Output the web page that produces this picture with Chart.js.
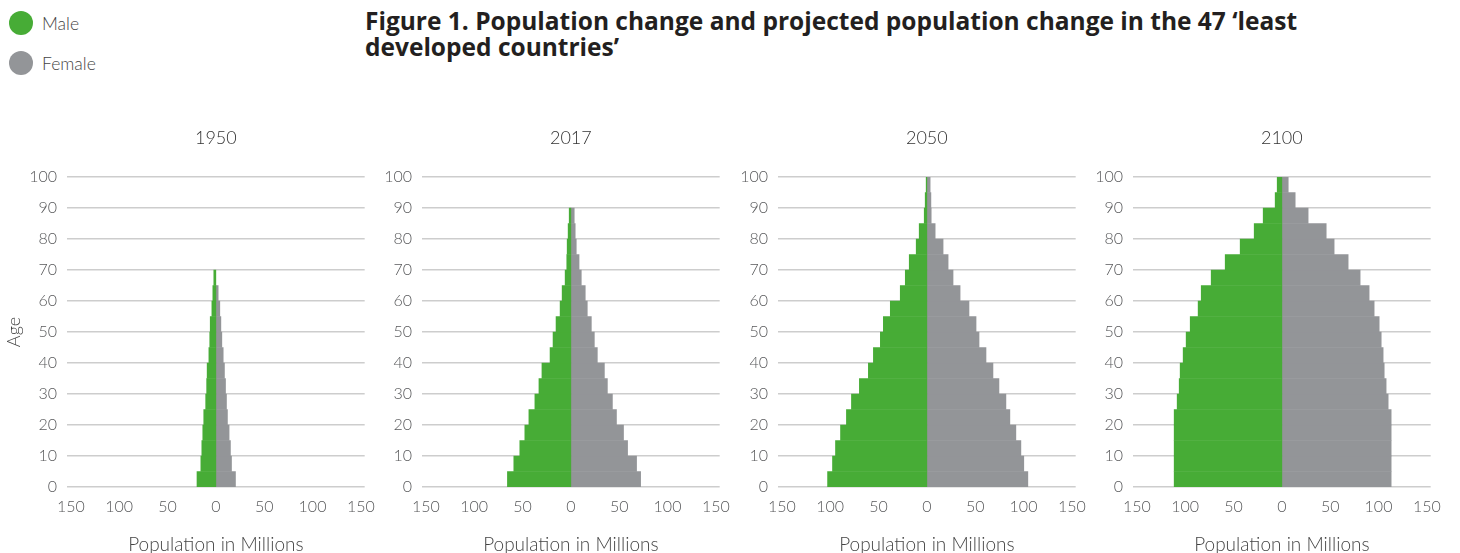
<!DOCTYPE html>
<html>
<head>
<meta charset="utf-8">
<script src="https://cdn.jsdelivr.net/npm/chart.js@4.4.1/dist/chart.umd.min.js"></script>
<style>
  body {
    margin: 0;
    width: 1460px;
    height: 553px;
    overflow: hidden;
    background: #fff;
    position: relative;
    font-family: Lato, "Open Sans", sans-serif;
  }
  .legend-item {
    position: absolute;
    left: 9px;
    height: 24px;
    display: flex;
    align-items: center;
    font-size: 17.5px;
    font-weight: 300;
    color: #444;
  }
  .dot {
    width: 24px;
    height: 24px;
    border-radius: 50%;
    margin-right: 9px;
  }
  h1 {
    position: absolute;
    left: 365px;
    top: 8px;
    margin: 0;
    font-family: "Open Sans", Lato, sans-serif;
    font-size: 24.5px;
    line-height: 26px;
    font-weight: 700;
    color: #231f20;
    white-space: nowrap;
  }
  .panel {
    position: absolute;
    top: 127px;
    height: 433px;
  }
</style>
</head>
<body>
<div class="legend-item" style="top:11px"><span class="dot" style="background:#47ac36"></span>Male</div>
<div class="legend-item" style="top:51px"><span class="dot" style="background:#939598"></span>Female</div>
<h1>Figure 1. Population change and projected population change in the 47 ‘least<br>developed countries’</h1>

<div class="panel" id="p0"><canvas id="c0"></canvas></div>
<div class="panel" id="p1"><canvas id="c1"></canvas></div>
<div class="panel" id="p2"><canvas id="c2"></canvas></div>
<div class="panel" id="p3"><canvas id="c3"></canvas></div>

<script>
// age bands 0-4 ... 95-99, placed at the band midpoint
const AGE_MIDS = [2.5, 7.5, 12.5, 17.5, 22.5, 27.5, 32.5, 37.5, 42.5, 47.5,
                  52.5, 57.5, 62.5, 67.5, 72.5, 77.5, 82.5, 87.5, 92.5, 97.5];
const YEARS = ['1950', '2017', '2050', '2100'];

// population in millions per band
const male1950 = [19.5, 15.5, 14.5, 13.5, 12.5, 10.5, 9.5, 9, 7.2, 6.3,
                  5.8, 4.1, 3.1, 2.1, null, null, null, null, null, null];
const female1950 = [20.3, 16.2, 15.1, 13.7, 12, 11, 10, 8.9, 7.6, 6.2,
                    5.2, 4.1, 2.4, null, null, null, null, null, null, null];

const male2017 = [65.6, 59, 52.8, 47.6, 43.4, 37.2, 33, 29.9, 21.5, 18.4,
                  15.3, 11.1, 9, 5.9, 4.2, 3.8, 2.8, 1.7, null, null];
const female2017 = [72.2, 68, 58.7, 54.5, 47.2, 43, 37.8, 34.7, 27.4, 24.3,
                    21.2, 17, 14.9, 10.8, 8.5, 5.6, 4.5, 3.5, null, null];

const male2050 = [102.7, 97.6, 94.5, 89.3, 83.2, 78, 69.8, 60.5, 55.3, 48.1,
                  45, 37.8, 27.5, 22.3, 18.2, 11, 7.9, 2.7, 1.7, 0.7];
const female2050 = [104.5, 100.3, 97.3, 92.1, 85.9, 81.8, 74.6, 68.4, 61.2, 54,
                    50.9, 43.6, 34.4, 27.1, 22, 16.8, 8.6, 4.5, 4.2, 3.4];

const male2100 = [111.4, 111.4, 111.4, 111.4, 111.4, 108.3, 106.2, 105.2, 102.1, 99,
                  94.8, 86.6, 83.4, 73.1, 58.6, 43.1, 28.6, 19.3, 6.9, 4.8];
const female2100 = [113.1, 113.1, 113.1, 113.1, 113.1, 110, 107.9, 105.9, 104.8, 102.8,
                    100.7, 95.5, 90.3, 81, 68.6, 54.1, 45.9, 27.2, 13.8, 6.6];

const MALE = [male1950, male2017, male2050, male2100];
const FEMALE = [female1950, female2017, female2050, female2100];

const GREEN = '#47ac36';
const GREY = '#939598';

// left edge of each plot area, and its width in pixels
const PLOT_LEFT = [67, 422, 778, 1133];
const PLOT_W = 298;
const PAD_RIGHT = 20;

Chart.defaults.font.family = 'Lato, "Open Sans", sans-serif';
Chart.defaults.font.weight = '300';
Chart.defaults.color = '#58595b';

YEARS.forEach((year, i) => {
    const axisW = i === 0 ? 67 : 60;
    const holder = document.getElementById('p' + i);
    holder.style.left = (PLOT_LEFT[i] - axisW) + 'px';
    holder.style.width = (axisW + PLOT_W + PAD_RIGHT) + 'px';

    new Chart(document.getElementById('c' + i), {
        type: 'bar',
        data: {
            labels: AGE_MIDS,
            datasets: [
                {
                    label: 'Male',
                    data: MALE[i].map(v => v === null ? null : -v),
                    backgroundColor: GREEN,
                    borderWidth: 0,
                    barPercentage: 1,
                    categoryPercentage: 1
                },
                {
                    label: 'Female',
                    data: FEMALE[i],
                    backgroundColor: GREY,
                    borderWidth: 0,
                    barPercentage: 1,
                    categoryPercentage: 1
                }
            ]
        },
        options: {
            indexAxis: 'y',
            responsive: true,
            maintainAspectRatio: false,
            animation: false,
            layout: { padding: { left: 0, right: PAD_RIGHT, top: 0, bottom: 0 } },
            scales: {
                y: {
                    type: 'linear',
                    stacked: true,
                    offset: false,
                    min: 0,
                    max: 100,
                    afterFit: scale => { scale.width = axisW; },
                    ticks: {
                        stepSize: 10,
                        padding: 10,
                        font: { size: 16 }
                    },
                    grid: {
                        offset: false,
                        drawTicks: false,
                        color: '#cdcdcd',
                        lineWidth: 1.5
                    },
                    border: { display: false },
                    title: {
                        display: i === 0,
                        text: 'Age',
                        color: '#444',
                        font: { size: 18 },
                        padding: { top: 3, bottom: 0 }
                    }
                },
                x: {
                    stacked: true,
                    min: -154,
                    max: 154,
                    ticks: {
                        stepSize: 50,
                        includeBounds: false,
                        padding: 10,
                        font: { size: 16 },
                        maxRotation: 0,
                        callback: v => Math.abs(v)
                    },
                    grid: { display: false, drawTicks: false },
                    border: { display: false },
                    title: {
                        display: true,
                        text: 'Population in Millions',
                        color: '#444',
                        font: { size: 19 },
                        padding: { top: 7, bottom: 4 }
                    }
                }
            },
            plugins: {
                legend: { display: false },
                tooltip: { enabled: false },
                title: {
                    display: true,
                    fullSize: false,
                    text: year,
                    color: '#333',
                    font: { size: 18, weight: '300' },
                    padding: { top: 0, bottom: 28.4 }
                }
            }
        }
    });
});
</script>
</body>
</html>
